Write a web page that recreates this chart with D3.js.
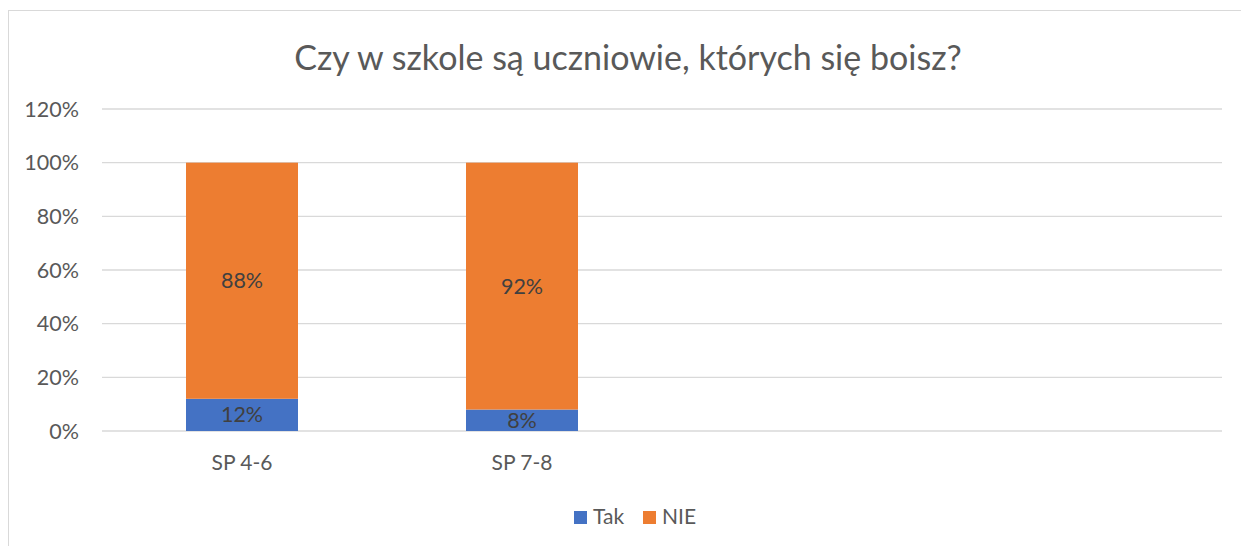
<!DOCTYPE html>
<html>
<head>
<meta charset="utf-8">
<script src="https://cdn.jsdelivr.net/npm/d3@7"></script>
<style>
  body { margin: 0; background: #fff; }
  svg { font-family: Lato, "Open Sans", sans-serif; }
</style>
</head>
<body>
<div id="chart"></div>
<script>
const title = "Czy w szkole są uczniowie, których się boisz?";
const categories = ["SP 4-6", "SP 7-8", "", " "];
const seriesNames = ["Tak", "NIE"];
const takValues = [0.12, 0.08, null, null];
const nieValues = [0.88, 0.92, null, null];
const yTicks = [0, 0.2, 0.4, 0.6, 0.8, 1.0, 1.2];
const colors = ["#4472C4", "#ED7D31"];

const width = 1241, height = 546;
const margin = { left: 102, right: 19, top: 109, bottom: 115 };

const svg = d3.select("#chart").append("svg")
    .attr("width", width)
    .attr("height", height);

// chart frame
svg.append("rect")
    .attr("x", 8.5).attr("y", 10.5)
    .attr("width", width + 20).attr("height", height + 20)
    .attr("fill", "none")
    .attr("stroke", "#d9d9d9");

svg.append("text")
    .attr("x", 628).attr("y", 70)
    .attr("text-anchor", "middle")
    .attr("font-size", 34)
    .attr("fill", "#595959")
    .text(title);

const x = d3.scaleBand()
    .domain(categories)
    .range([margin.left, width - margin.right])
    .paddingInner(0.6)
    .paddingOuter(0.3);

const y = d3.scaleLinear()
    .domain([0, 1.2])
    .range([height - margin.bottom, margin.top]);

// gridlines
svg.append("g").selectAll("line")
    .data(yTicks)
    .enter()
    .append("line")
    .attr("x1", margin.left).attr("x2", width - margin.right)
    .attr("y1", d => y(d)).attr("y2", d => y(d))
    .attr("stroke", "#d9d9d9")
    .attr("stroke-width", 1.3);

// y tick labels
svg.append("g").selectAll("text")
    .data(yTicks)
    .enter()
    .append("text")
    .attr("x", 79)
    .attr("y", d => y(d))
    .attr("dy", "0.35em")
    .attr("text-anchor", "end")
    .attr("font-size", 21.5)
    .attr("fill", "#595959")
    .text(d => d3.format(".0%")(d));

// stacked bars
const rows = categories.map((c, i) => ({ cat: c, Tak: takValues[i], NIE: nieValues[i] }))
    .filter(d => d.Tak !== null);
const stack = d3.stack().keys(seriesNames)(rows);

const layers = svg.append("g").selectAll("g")
    .data(stack)
    .enter()
    .append("g")
    .attr("fill", (d, i) => colors[i]);

layers.selectAll("rect")
    .data(d => d)
    .enter()
    .append("rect")
    .attr("x", d => x(d.data.cat))
    .attr("width", x.bandwidth())
    .attr("y", d => y(d[1]))
    .attr("height", d => y(d[0]) - y(d[1]));

layers.selectAll("text")
    .data(d => d)
    .enter()
    .append("text")
    .attr("x", d => x(d.data.cat) + x.bandwidth() / 2)
    .attr("y", d => y((d[0] + d[1]) / 2))
    .attr("dy", "0.35em")
    .attr("text-anchor", "middle")
    .attr("font-size", 21.5)
    .attr("fill", "#404040")
    .text(d => d3.format(".0%")(d[1] - d[0]));

// category labels
svg.append("g").selectAll("text")
    .data(categories.filter(c => c.trim() !== ""))
    .enter()
    .append("text")
    .attr("x", d => x(d) + x.bandwidth() / 2)
    .attr("y", 463)
    .attr("dy", "0.35em")
    .attr("text-anchor", "middle")
    .attr("font-size", 21)
    .attr("fill", "#595959")
    .text(d => d);

// legend
const legendX = [574, 643];
const legend = svg.append("g").selectAll("g")
    .data(seriesNames)
    .enter()
    .append("g")
    .attr("transform", (d, i) => `translate(${legendX[i]},517)`);

legend.append("rect")
    .attr("x", 0).attr("y", -6)
    .attr("width", 13).attr("height", 13)
    .attr("fill", (d, i) => colors[i]);

legend.append("text")
    .attr("x", 19)
    .attr("dy", "0.35em")
    .attr("font-size", 21)
    .attr("fill", "#595959")
    .text(d => d);
</script>
</body>
</html>
